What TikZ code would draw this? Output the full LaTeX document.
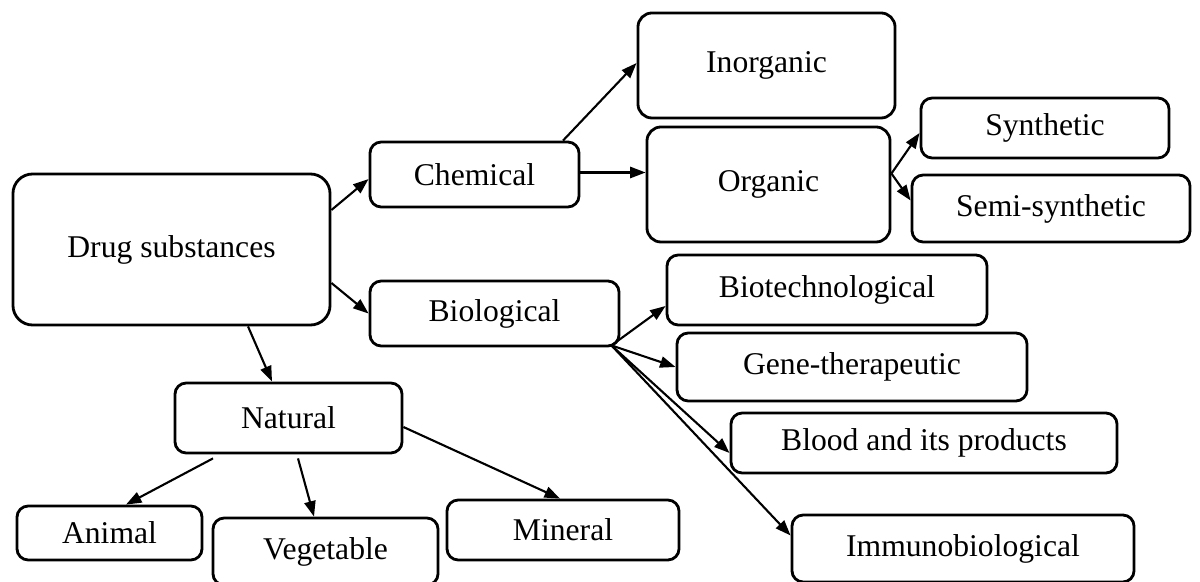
\documentclass[tikz,border=0pt]{standalone}
\usepackage{fontspec}
\setmainfont{Liberation Serif}
\usetikzlibrary{arrows.meta,calc}

\tikzset{
  box/.style={draw, line width=2pt, rounded corners=8pt, inner sep=0pt,
    font=\fontsize{22.5}{27}\selectfont},
  arr/.style={line width=1.5pt, -{Triangle[length=11pt,width=8pt]}}
}

\begin{document}
\begin{tikzpicture}[x=0.025cm, y=-0.025cm]
  \useasboundingbox (0,0) rectangle (1200,582);
  % Root
  \node[box, rounded corners=14pt, minimum width=7.925cm, minimum height=3.775cm]
    (drug) at (171.5,249.5) {Drug substances};
  % Chemical branch
  \node[box, minimum width=5.225cm, minimum height=1.625cm] (chem) at (474.5,174.5) {Chemical};
  \node[box, rounded corners=10pt, minimum width=6.425cm, minimum height=2.625cm]
    (inorg) at (766.5,65.5) {Inorganic};
  \node[box, rounded corners=10pt, minimum width=6.075cm, minimum height=2.875cm]
    (org) at (768.5,184.5) {Organic};
  \node[box, minimum width=6.2cm, minimum height=1.5cm] (synth) at (1045,128) {Synthetic};
  \node[box, minimum width=6.95cm, minimum height=1.675cm] (semi) at (1051,208.5) {Semi-synthetic};
  % Biological branch
  \node[box, minimum width=6.225cm, minimum height=1.625cm] (bio) at (494.5,313.5) {Biological};
  \node[box, minimum width=8cm, minimum height=1.75cm] (biotech) at (827,290) {Biotechnological};
  \node[box, minimum width=8.75cm, minimum height=1.7cm] (gene) at (852,367) {Gene-therapeutic};
  \node[box, minimum width=9.65cm, minimum height=1.5cm] (blood) at (924,443) {Blood and its products};
  \node[box, minimum width=8.55cm, minimum height=1.675cm] (immuno) at (963,548.5) {Immunobiological};
  % Natural branch
  \node[box, minimum width=5.675cm, minimum height=1.75cm] (natural) at (288.5,418) {Natural};
  \node[box, minimum width=4.625cm, minimum height=1.35cm] (animal) at (109.5,533) {Animal};
  \node[box, minimum width=5.625cm, minimum height=1.675cm] (veg) at (325.5,551.5) {Vegetable};
  \node[box, minimum width=5.8cm, minimum height=1.5cm] (mineral) at (563,530) {Mineral};

  % Arrows from the root
  \draw[arr] ($(drug.east)+(0,-39.5)$) -- ($(chem.west)+(0,4.5)$);
  \draw[arr] ($(drug.east)+(0,33.5)$) -- (bio.west);
  \draw[arr] ($(drug.south)+(76.5,0)$) -- ($(natural.north)+(-16.5,0)$);
  % Chemical
  \draw[arr] ($(chem.north)+(88.5,0)$) -- ($(inorg.west)+(0,-2.5)$);
  \draw[arr] ($(chem.east)+(0,-2)$) -- ($(chem.east -| org.west)+(0,-2)$);
  \draw[arr] ($(org.east)+(0,-11)$) -- ($(synth.west)+(0,5)$);
  \draw[arr] ($(org.east)+(0,-11)$) -- ($(semi.west)+(0,-8)$);
  % Biological
  \draw[arr] ($(bio.south east)+(-9,-2)$) -- ($(biotech.west)+(0,16)$);
  \draw[arr] ($(bio.south east)+(-9,-2)$) -- (gene.west);
  \draw[arr] ($(bio.south east)+(-9,-2)$) -- ($(blood.west)+(0,10)$);
  \draw[arr] ($(bio.south east)+(-9,-2)$) -- ($(immuno.west)+(0,-13)$);
  % Natural
  \draw[arr] ($(natural.south)+(-75.5,4)$) -- ($(animal.north)+(16.5,0)$);
  \draw[arr] ($(natural.south)+(9.5,4)$) -- ($(veg.north)+(-11.5,0)$);
  \draw[arr] ($(natural.east)+(0,9)$) -- ($(mineral.north)+(-3,0)$);
\end{tikzpicture}
\end{document}
